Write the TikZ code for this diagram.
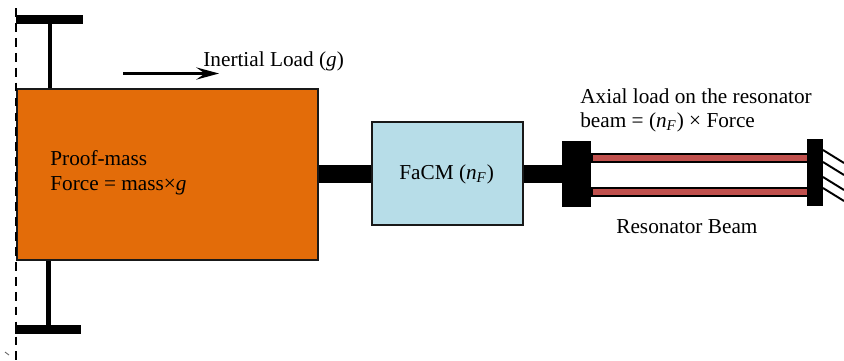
\documentclass[tikz,border=0pt]{standalone}
\usepackage{fontspec}
\setmainfont{Liberation Serif}
\usetikzlibrary{arrows.meta}
\definecolor{massorange}{HTML}{E36C09}
\definecolor{facmblue}{HTML}{B7DDE8}
\definecolor{beamred}{HTML}{C0504D}
\newcommand{\nF}{\textit{n}\textsubscript{\textit{F}}}
\begin{document}
\begin{tikzpicture}[x=0.02cm, y=-0.02cm, >={Stealth[length=13pt,width=7pt,inset=5pt]}, font=\fontsize{12.1}{14.4}\selectfont, block/.style={rectangle, draw=black!90, line width=0.95pt, inner sep=0pt, anchor=north west}, solid part/.style={rectangle, fill=black, inner sep=0pt, anchor=north west}, beam/.style={rectangle, draw=black, line width=0.9pt, fill=beamred, inner sep=0pt, anchor=north west, minimum width=4.32cm, minimum height=0.16cm}, rod/.style={line width=0.36cm}, stem/.style={line width=0.09cm}, label/.style={inner sep=0pt, anchor=base west, align=left}]
\useasboundingbox (0,0) rectangle (844,360);

\node[block, fill=massorange, minimum width=6.02cm, minimum height=3.42cm] (mass) at (16,88) {};
\node[block, fill=facmblue, minimum width=3.02cm, minimum height=2.06cm] (facm) at (371,121) {};

\node[solid part, minimum width=1.34cm, minimum height=0.17cm] (topbar) at (16,15) {};
\node[solid part, minimum width=1.32cm, minimum height=0.17cm] (botbar) at (15,325) {};
\node[solid part, minimum width=0.58cm, minimum height=1.32cm] (anchor) at (562,141) {};
\node[solid part, minimum width=0.32cm, minimum height=1.34cm] (clamp) at (807,139) {};

\node[beam] (beam1) at (591,153) {};
\node[beam] (beam2) at (591,187) {};

\node[label] (proof) at (50,165) {Proof-mass};
\node[label] (force) at (50,190) {Force = mass×\textit{g}};
\node[label] (inertial) at (203,66) {Inertial Load (\textit{g})};
\node[label] (axial1) at (580,103) {Axial load on the resonator};
\node[label] (axial2) at (580,127) {beam = (\nF) × Force};
\node[label] (facmtext) at (399,179) {FaCM (\nF)};
\node[label] (restext) at (616,233) {Resonator Beam};

\coordinate (dashtop) at (16,8);
\coordinate (dashbot) at (16,360);
\coordinate (arrowtail) at (123,73.5);
\coordinate (arrowhead) at (219,73.5);
\coordinate (ticka) at (5,352);
\coordinate (tickb) at (9,355);

\draw[line width=1pt, dash pattern=on 5pt off 3.5pt] (dashtop) -- (dashbot);
\draw[->, line width=1.2pt] (arrowtail) -- (arrowhead);
\draw[line width=0.5pt, black!60] (ticka) -- (tickb);

\draw[stem] (topbar.south) -- (topbar.south |- mass.north);
\draw[stem] (botbar.north) -- (botbar.north |- mass.south);
\draw[rod] (mass.east |- 0,174) -- (facm.west |- 0,174);
\draw[rod] (facm.east |- 0,174) -- (anchor.west |- 0,174);

\foreach \y/\name in {150/h1,162/h2,177/h3,188/h4}
{
    \coordinate (\name a) at (823,\y);
    \coordinate (\name b) at (844,\y+13);
    \draw[line width=1.1pt] (\name a) -- (\name b);
}
\end{tikzpicture}
\end{document}
